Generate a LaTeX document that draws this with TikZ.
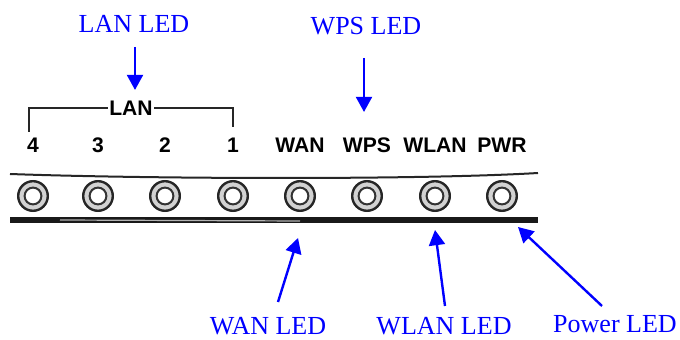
\documentclass[tikz,border=0pt]{standalone}
\usepackage{fontspec}
\setmainfont{Liberation Serif}
\newfontfamily\panelfont{Liberation Sans}
\usepackage{xcolor}
\definecolor{callout}{RGB}{0,0,255}
\usepackage{tikz}
\usetikzlibrary{arrows.meta, positioning, calc}

\tikzset{
  callout/.style={text=callout, font=\fontsize{18.5}{20}\selectfont, anchor=base, inner sep=0pt},
  pointer/.style={callout, draw=callout, line width=0.06cm, -{Triangle[length=0.38cm, width=0.4cm]}},
  panellabel/.style={font=\panelfont\bfseries\fontsize{15}{16}\selectfont, anchor=base, inner sep=0pt},
  ledring/.style={circle, draw=black!85, line width=0.06cm, fill=gray!35, minimum size=0.74cm, inner sep=0pt},
  ledhole/.style={circle, draw=black!80, line width=0.05cm, fill=white, minimum size=0.42cm, inner sep=0pt}
}

\begin{document}
\begin{tikzpicture}[x=0.025cm, y=-0.025cm]
  \useasboundingbox (0,0) rectangle (680,340);

  % front panel strip
  \draw[black!85, line width=0.05cm] (10,174) .. controls (150,179) and (420,180) .. (538,173);
  \draw[black!90, line width=0.15cm] (10,220) -- (538,220);
  \draw[gray!60, line width=0.03cm] (60,220) -- (300,221);

  % panel labels and LEDs
  \foreach \x/\n/\t in {33/p4/4, 98/p3/3, 165/p2/2, 233/p1/1, 300/wan/WAN, 367/wps/WPS, 435/wlan/WLAN, 502/pwr/PWR} {
    \node[panellabel] (lbl\n) at (\x,153) {\t};
    \node[ledring] (led\n) at (\x,196) {};
    \node[ledhole] at (led\n) {};
  }

  % LAN bracket
  \node[panellabel, anchor=center, inner sep=1pt] (lanTag) at (131,108) {LAN};
  \coordinate (brkL) at (29,132);
  \coordinate (brkR) at (233,127);
  \draw[black!85, line width=0.05cm] (brkL) |- (lanTag.west);
  \draw[black!85, line width=0.05cm] (lanTag.east) -| (brkR);

  % callouts above
  \node[callout] (lanLed) at (134,33) {LAN LED};
  \node[callout] (wpsLed) at (366,35) {WPS LED};
  \coordinate (lanTail) at (135,47);  \coordinate (lanTip) at (135,90);
  \coordinate (wpsTail) at (364,58);  \coordinate (wpsTip) at (364,112);
  \draw[pointer] (lanTail) -- (lanTip);
  \draw[pointer] (wpsTail) -- (wpsTip);

  % callouts below
  \node[callout] (wanLed) at (268,335) {WAN LED};
  \node[callout] (wlanLed) at (444,335) {WLAN LED};
  \node[callout] (pwrLed) at (615,333) {Power LED};
  \coordinate (wanTail) at (278,302);  \coordinate (wanTip) at (298,238);
  \coordinate (wlanTail) at (445,306); \coordinate (wlanTip) at (435,230);
  \coordinate (pwrTail) at (602,306);  \coordinate (pwrTip) at (518,227);
  \draw[pointer] (wanTail) -- (wanTip);
  \draw[pointer] (wlanTail) -- (wlanTip);
  \draw[pointer] (pwrTail) -- (pwrTip);
\end{tikzpicture}
\end{document}
